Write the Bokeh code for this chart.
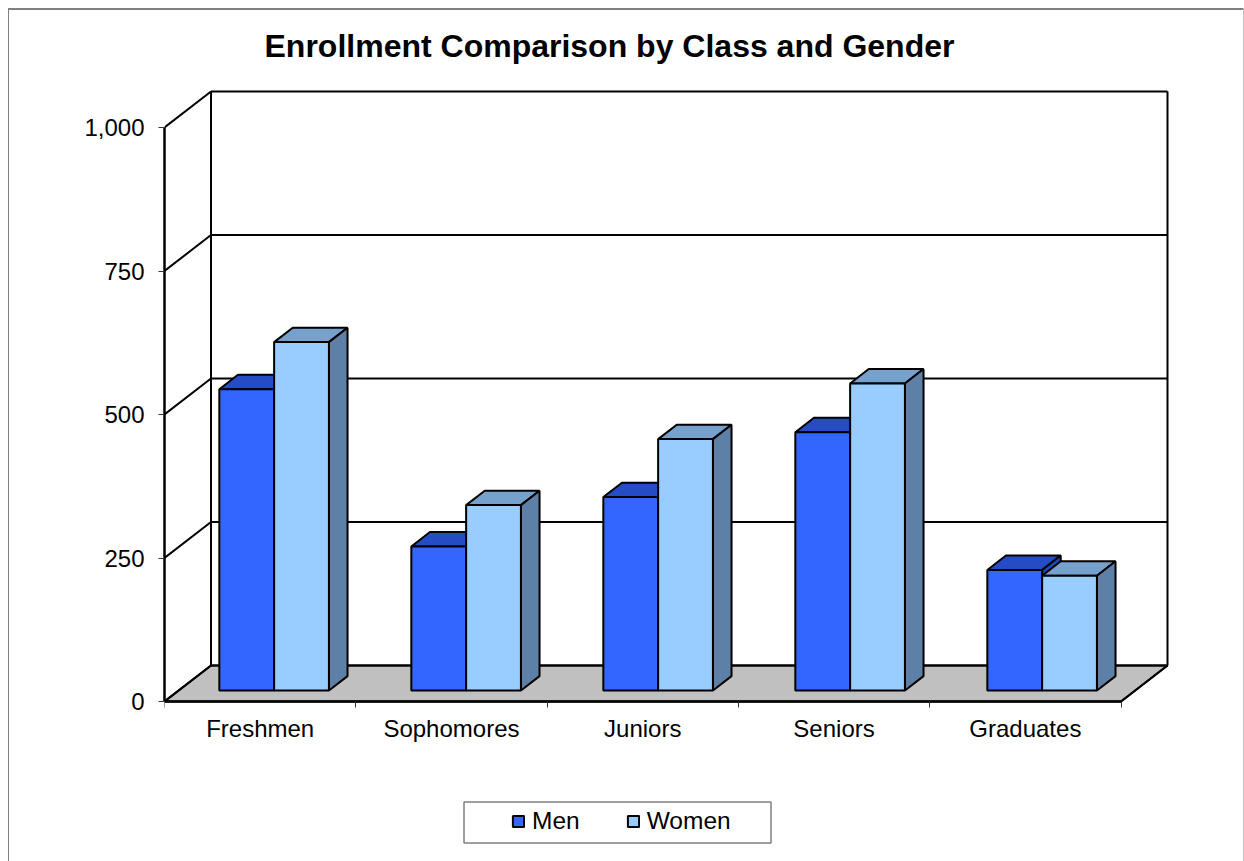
from bokeh.plotting import figure
from bokeh.models import Range1d, FixedTicker, NumeralTickFormatter, Legend, LegendItem, BoxAnnotation
from bokeh.embed import file_html
from bokeh.resources import INLINE

categories = ["Freshmen", "Sophomores", "Juniors", "Seniors", "Graduates"]
men = [525, 251, 337, 450, 210]
women = [607, 323, 438, 535, 200]
y_ticks = [0, 250, 500, 750, 1000]

PX_X = 191.3   # pixels per category
PX_Y = 0.574   # pixels per enrollment unit
DEPTH_X = 46.5 / PX_X
DEPTH_Y = 36 / PX_Y
BAR_W = 54.8 / PX_X
BAR_STEP = 192.0 / PX_X
GROUP_PAD = (1 - 2 * 55.0 / PX_X) / 2
F0, F1 = 0.305, 0.705   # front and back of a bar, as a share of the floor's depth
N = len(categories)

FONT = "Liberation Sans"
border_styles = {
    "background-image": "linear-gradient(#808080,#808080),linear-gradient(#808080,#808080),linear-gradient(#c0c0c0,#c0c0c0)",
    "background-size": "1235px 2px,1px 853px,1px 853px",
    "background-position": "8px 8px,8px 8px,1243px 8px",
    "background-repeat": "no-repeat",
}
p = figure(width=1244, height=861, frame_width=1008, frame_height=773, output_backend="svg", toolbar_location=None,
           x_range=Range1d(0, 1008 / PX_X), y_range=Range1d(-160 / PX_Y, 613 / PX_Y),
           min_border_left=164, min_border_right=72, min_border_top=88, min_border_bottom=0,
           outline_line_color=None, background_fill_color=None, border_fill_color=None,
           styles=border_styles)
p.grid.visible = False

p.title.text = "Enrollment Comparison by Class and Gender"
p.title.text_font = FONT
p.title.text_font_size = "32px"
p.title.text_font_style = "bold"
p.title.text_color = "black"
p.title.align = "left"
p.title.offset = 100
p.title.standoff = 50

# left axis
ya = p.yaxis[0]
ya.ticker = FixedTicker(ticks=y_ticks)
ya.formatter = NumeralTickFormatter(format="0,0")
ya.bounds = (0, 1000)
ya.axis_line_width = 2.5
ya.axis_line_color = "black"
ya.major_tick_in = 0
ya.major_tick_out = 6
ya.minor_tick_out = 0
ya.minor_tick_in = 0
ya.major_tick_line_color = "#333333"
ya.major_label_standoff = 14
ya.major_label_text_font = FONT
ya.major_label_text_font_size = "24px"
ya.major_label_text_color = "black"

# bottom axis
xa = p.xaxis[0]
xa.fixed_location = 0
centers = [i + 0.5 for i in range(N)]
xa.ticker = FixedTicker(ticks=centers, minor_ticks=list(range(N + 1)))
xa.major_label_overrides = {c: t for c, t in zip(centers, categories)}
xa.bounds = (0, N)
xa.axis_line_width = 2.5
xa.axis_line_color = "black"
xa.major_tick_in = 0
xa.major_tick_out = 0
xa.minor_tick_in = 0
xa.minor_tick_out = 6
xa.minor_tick_line_color = "#333333"
xa.major_label_standoff = 7
xa.major_label_text_font = FONT
xa.major_label_text_font_size = "24px"
xa.major_label_text_color = "black"

# floor
p.patch([0, N, N + DEPTH_X, DEPTH_X], [0, 0, DEPTH_Y, DEPTH_Y],
        fill_color="#C0C0C0", line_color="black", line_width=2)

# walls and gridlines
p.segment(x0=[0] * len(y_ticks), y0=y_ticks, x1=[DEPTH_X] * len(y_ticks), y1=[t + DEPTH_Y for t in y_ticks],
          line_color="black", line_width=2)
p.segment(x0=[DEPTH_X] * len(y_ticks), y0=[t + DEPTH_Y for t in y_ticks],
          x1=[N + DEPTH_X] * len(y_ticks), y1=[t + DEPTH_Y for t in y_ticks],
          line_color="black", line_width=2)
top = max(y_ticks) + DEPTH_Y
p.segment(x0=[DEPTH_X, N + DEPTH_X], y0=[DEPTH_Y, DEPTH_Y], x1=[DEPTH_X, N + DEPTH_X], y1=[top, top],
          line_color="black", line_width=2)
p.segment(x0=[N], y0=[0], x1=[N + DEPTH_X], y1=[DEPTH_Y], line_color="black", line_width=2)


def series(values, slot, front_c, top_c, side_c):
    ox, oy = F0 * DEPTH_X, F0 * DEPTH_Y
    bx, by = (F1 - F0) * DEPTH_X, (F1 - F0) * DEPTH_Y
    fx, fy, tx, ty, sx, sy = [], [], [], [], [], []
    for i, v in enumerate(values):
        x0 = i * BAR_STEP + GROUP_PAD + slot * BAR_W + ox
        x1 = x0 + BAR_W
        h = oy + v
        fx.append([x0, x1, x1, x0]); fy.append([oy, oy, h, h])
        tx.append([x0, x1, x1 + bx, x0 + bx]); ty.append([h, h, h + by, h + by])
        sx.append([x1, x1 + bx, x1 + bx, x1]); sy.append([oy, oy + by, h + by, h])
    p.patches(tx, ty, fill_color=top_c, line_color="black", line_width=2)
    p.patches(sx, sy, fill_color=side_c, line_color="black", line_width=2)
    return p.patches(fx, fy, fill_color=front_c, line_color="black", line_width=2)


r_men = series(men, 0, "#3366FF", "#254CC4", "#2347B8")
r_women = series(women, 1, "#99CCFF", "#76A1CC", "#5F80A6")

# legend box, and the legend inside it
p.add_layout(BoxAnnotation(left=463.5, right=770.5, top=801.5, bottom=842.5,
                           left_units="canvas", right_units="canvas", top_units="canvas", bottom_units="canvas",
                           fill_alpha=0, line_color="#808080", line_alpha=1, line_width=1.5))
legend = Legend(items=[LegendItem(label="Men", renderers=[r_men]), LegendItem(label="Women", renderers=[r_women])],
                orientation="horizontal", location=(347, 26),
                glyph_width=14, glyph_height=14, label_standoff=7, spacing=46, padding=6, margin=0,
                label_text_font=FONT, label_text_font_size="24.5px", label_text_color="black",
                border_line_color=None, background_fill_alpha=0)
p.add_layout(legend, "center")

open("out.html", "w").write(file_html(p, INLINE))
